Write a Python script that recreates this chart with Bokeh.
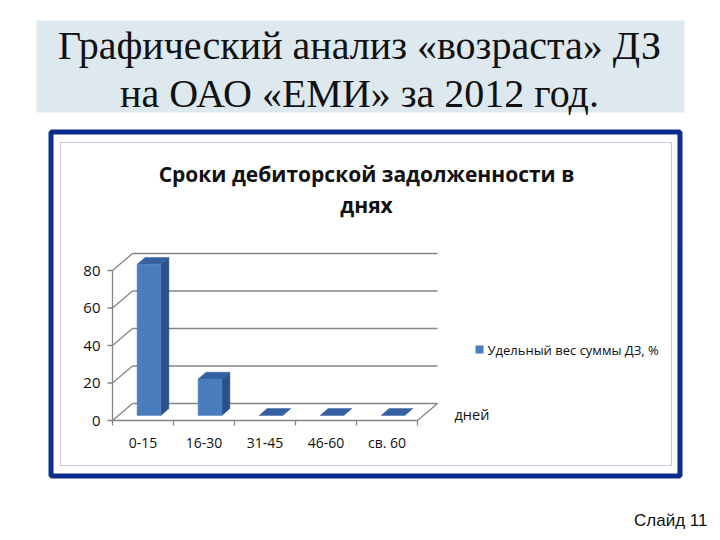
from bokeh.plotting import figure
from bokeh.models import Range1d
from bokeh.embed import file_html
from bokeh.resources import INLINE
from bokeh.core.properties import value

# ---------------- data ----------------
categories = ["0-15", "16-30", "31-45", "46-60", "св. 60"]
shares = [80.6, 19.4, 0, 0, 0]
y_ticks = [0, 20, 40, 60, 80]
slide_title = ["Графический анализ «возраста» ДЗ", "на ОАО «ЕМИ» за 2012 год."]
chart_title = ["Сроки дебиторской задолженности в", "днях"]
series_name = "Удельный вес суммы ДЗ, %"
x_axis_title = "дней"
slide_label = "Слайд 11"

# ---------------- layout (page pixels) ----------------
W, H = 712, 532
AX_LEFT, AX_RIGHT = 112, 417      # pixel of category 0 and category N (front plane)
AX_ZERO, AX_TOP = 420, 270        # pixel of 0 and of top tick (front plane)

N = len(categories)
ymax = y_ticks[-1]
px_cat = (AX_RIGHT - AX_LEFT) / N
px_pct = (AX_ZERO - AX_TOP) / ymax

# 3D depth (in axis units) and bar geometry
DX = 20 / px_cat
DY = 17 / px_pct
BAR_W = 0.39
F0, FD = 0.3, 0.4   # bar front position and depth (fraction of full depth)

BLUE_FRONT = "#4a7dbe"
BLUE_SIDE = "#2c5189"
BLUE_TOP = "#3561a0"
GRID = "#858585"
FONT = value("Open Sans")

p = figure(width=W, height=H,
           x_range=Range1d(0, W), y_range=Range1d(H, 0),
           x_axis_location=None, y_axis_location=None,
           output_backend="svg", toolbar_location=None, min_border=0)
p.grid.visible = False
p.outline_line_color = None
p.background_fill_color = "white"

p.extra_x_ranges = {"cat": Range1d((0 - AX_LEFT) / px_cat, (W - AX_LEFT) / px_cat)}
p.extra_y_ranges = {"pct": Range1d((AX_ZERO - H) / px_pct, (AX_ZERO - 0) / px_pct)}
C = dict(x_range_name="cat", y_range_name="pct")

# ---------------- slide decoration ----------------
p.quad(left=36, right=684, top=20, bottom=112, fill_color="#dde8ef", line_color=None)
p.text(x=[359, 359], y=[45, 93], text=slide_title, text_font=value("Liberation Serif"),
       text_font_size="40px", text_align="center", text_baseline="middle", text_color="#111111")

p.quad(left=50.5, right=679.5, top=131.5, bottom=475.5, fill_color="white",
       line_color="#0b2d8e", line_width=5)
p.quad(left=60, right=671, top=142, bottom=465, fill_color=None,
       line_color="#cbc6dc", line_width=1)

p.text(x=[366, 366], y=[173, 204], text=chart_title, text_font=FONT, text_font_style="bold",
       text_font_size="21px", text_align="center", text_baseline="middle", text_color="#111111")

# ---------------- 3D chart walls ----------------
p.segment(x0=[DX] * len(y_ticks), y0=[v + DY for v in y_ticks],
          x1=[N + DX] * len(y_ticks), y1=[v + DY for v in y_ticks],
          line_color=GRID, line_width=1.3, **C)
p.segment(x0=[0] * len(y_ticks), y0=y_ticks, x1=[DX] * len(y_ticks),
          y1=[v + DY for v in y_ticks], line_color=GRID, line_width=1.3, **C)
p.segment(x0=[0], y0=[0], x1=[0], y1=[ymax], line_color=GRID, line_width=1.3, **C)
p.segment(x0=[0, N], y0=[0, 0], x1=[N, N + DX], y1=[0, DY],
          line_color=GRID, line_width=1.3, **C)
p.segment(x0=[0] * len(y_ticks), y0=y_ticks, x1=[-5 / px_cat] * len(y_ticks), y1=y_ticks,
          line_color=GRID, line_width=1.3, **C)
p.segment(x0=list(range(N + 1)), y0=[0] * (N + 1), x1=list(range(N + 1)),
          y1=[-5 / px_pct] * (N + 1), line_color=GRID, line_width=1.3, **C)

p.text(x=[0] * len(y_ticks), y=y_ticks, text=[str(v) for v in y_ticks], x_offset=-12,
       text_font=FONT, text_font_size="15px", text_align="right", text_baseline="middle",
       text_color="#111111", **C)
p.text(x=[i + 0.5 for i in range(N)], y=[0] * N, text=categories, y_offset=22,
       text_font=FONT, text_font_size="14px", text_align="center", text_baseline="middle",
       text_color="#111111", **C)

# ---------------- bars ----------------
front_l, front_r, front_t, front_b = [], [], [], []
side_xs, side_ys, top_xs, top_ys = [], [], [], []
for i, v in enumerate(shares):
    xl = i + 0.5 - BAR_W / 2 + F0 * DX
    xr = i + 0.5 + BAR_W / 2 + F0 * DX
    y0 = F0 * DY
    ddx, ddy = FD * DX, FD * DY
    if v > 0:
        front_l.append(xl); front_r.append(xr)
        front_b.append(y0); front_t.append(v + y0)
        side_xs.append([xr, xr, xr + ddx, xr + ddx])
        side_ys.append([y0, v + y0, v + y0 + ddy, y0 + ddy])
    top_xs.append([xl, xr, xr + ddx, xl + ddx])
    top_ys.append([v + y0, v + y0, v + y0 + ddy, v + y0 + ddy])

p.patches(xs=side_xs, ys=side_ys, fill_color=BLUE_SIDE, line_color=BLUE_SIDE, line_width=0.5, **C)
p.patches(xs=top_xs, ys=top_ys, fill_color=BLUE_TOP, line_color=BLUE_TOP, line_width=0.5, **C)
p.quad(left=front_l, right=front_r, top=front_t, bottom=front_b,
       fill_color=BLUE_FRONT, line_color=BLUE_FRONT, line_width=0.5, **C)

# ---------------- legend & labels ----------------
p.scatter(x=[479], y=[349], marker="square", size=8, fill_color=BLUE_FRONT, line_color=None)
p.text(x=[487], y=[349], text=[series_name], text_font=FONT, text_font_size="13px",
       text_align="left", text_baseline="middle", text_color="#111111")
p.text(x=[454], y=[414], text=[x_axis_title], text_font=FONT, text_font_size="14.5px",
       text_align="left", text_baseline="middle", text_color="#111111")
p.text(x=[707], y=[520], text=[slide_label], text_font=value("Liberation Sans"),
       text_font_size="17px", text_align="right", text_baseline="middle", text_color="#111111")

open("out.html", "w").write(file_html(p, INLINE))
